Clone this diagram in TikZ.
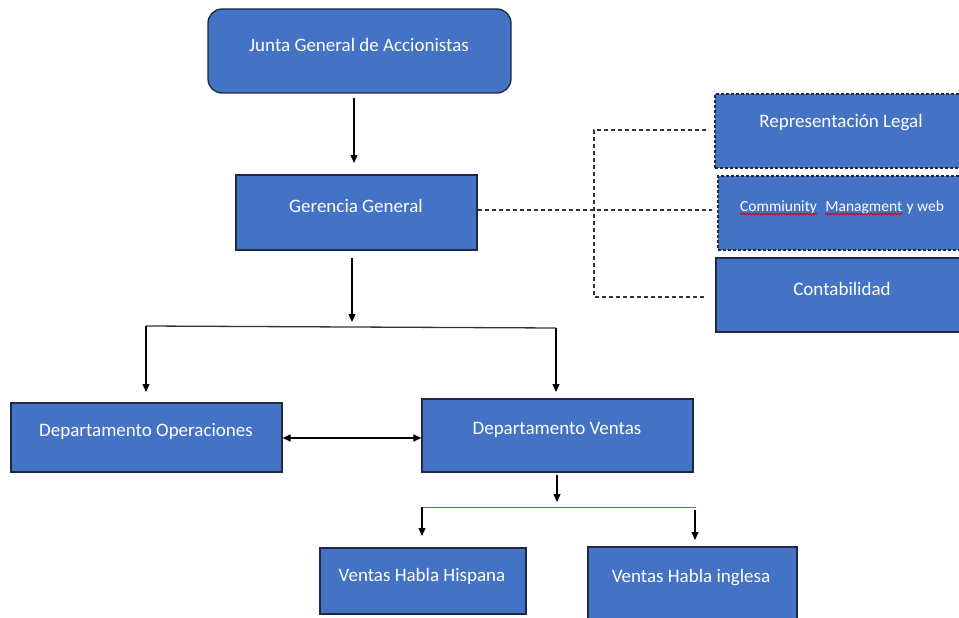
\documentclass[tikz,border=0pt]{standalone}
\usepackage{fontspec}
\setmainfont{Carlito}
\usetikzlibrary{arrows.meta,decorations.pathmorphing}
\definecolor{boxblue}{HTML}{4472C4}
\definecolor{boxline}{HTML}{1E2A44}
\begin{document}
\begin{tikzpicture}[x=1pt,y=-1pt,
  box/.style={draw=boxline,fill=boxblue,line width=1.3pt,inner sep=0pt},
  dbox/.style={box,dashed,dash pattern=on 3pt off 2pt},
  txt/.style={text=white,font=\fontsize{19}{22}\selectfont,inner sep=0pt,anchor=center},
  stxt/.style={text=white,font=\fontsize{15.5}{18}\selectfont,inner sep=0pt,anchor=base west},
  squig/.style={red!85!black,line width=0.8pt,decorate,decoration={snake,amplitude=0.9pt,segment length=3pt}},
  arr/.style={line width=1.3pt,-{Triangle[width=7pt,length=8pt]}},
  dl/.style={line width=1.1pt,dash pattern=on 4pt off 3pt,draw=black!80}]
\useasboundingbox (0,0) rectangle (959,618);
% boxes
\node[box,rounded corners=14pt,minimum width=303pt,minimum height=84pt] (junta) at (359.5,51) {};
\node[txt] (juntat) at (359,45) {Junta General de Accionistas};
\node[box,minimum width=241pt,minimum height=75pt] (gg) at (356.5,212.5) {};
\node[txt] (ggt) at (356,206) {Gerencia General};
\node[dbox,minimum width=250pt,minimum height=74pt] (rl) at (840,131) {};
\node[txt] (rlt) at (841,123) {Representación Legal};
\node[dbox,minimum width=246pt,minimum height=74pt] (cm) at (841,213) {};
\node[stxt] (c1) at (740,211) {Commiunity};
\node[stxt] (c2) at ([xshift=8pt]c1.base east) {Managment};
\node[stxt] (c3) at ([xshift=4pt]c2.base east) {y web};
\draw[squig] ([yshift=-3pt]c1.base west) -- ([yshift=-3pt]c1.base east);
\draw[squig] ([yshift=-3pt]c2.base west) -- ([yshift=-3pt]c2.base east);
\node[box,minimum width=248pt,minimum height=74pt] (co) at (840,295) {};
\node[txt] (cot) at (842,289) {Contabilidad};
\node[box,minimum width=271pt,minimum height=69pt] (op) at (146.5,437.5) {};
\node[txt] (opt) at (146,431) {Departamento Operaciones};
\node[box,minimum width=271pt,minimum height=73pt] (dv) at (557.5,435.5) {};
\node[txt] (dvt) at (557,430) {Departamento Ventas};
\node[box,minimum width=206pt,minimum height=66pt] (vh) at (423,581) {};
\node[txt] (vht) at (422,576) {Ventas Habla Hispana};
\node[box,minimum width=209pt,minimum height=72pt] (vi) at (692.5,583) {};
\node[txt] (vit) at (691,578) {Ventas Habla inglesa};
% connectors
\draw[arr] (354,98) -- (354,163);
\coordinate (b1) at (352,326);
\coordinate (bl) at (146,326);
\coordinate (br) at (556,328);
\draw[arr] (352,258) -- ([yshift=4pt]b1);
\draw[line width=1.3pt,draw=black!80] (bl) -- (br);
\draw[arr] (bl) -- (146,392);
\draw[arr] (br) -- (556,392);
\draw[line width=1.3pt,{Triangle[width=7pt,length=8pt]}-{Triangle[width=7pt,length=8pt]}] (op.east|-0,438) -- (dv.west|-0,438);
\coordinate (v1) at (557,507);
\coordinate (vl) at (421,507);
\coordinate (vr) at (696,507);
\draw[arr] (557,475) -- ([yshift=5pt]v1);
\draw[line width=1pt,draw=boxblue] (vl) -- (vr);
\draw[arr] (422,507) -- (422,536);
\draw[arr] (695,510) -- (695,540);
% dashed
\coordinate (dt) at (594,130);
\coordinate (db) at (594,297);
\draw[dl] (gg.east|-0,210) -- (712,210);
\draw[dl] (706,130) -- (dt) -- (db) -- (706,297);
\end{tikzpicture}
\end{document}
